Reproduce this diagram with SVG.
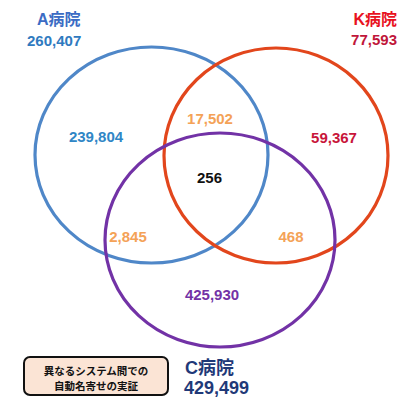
<svg xmlns="http://www.w3.org/2000/svg" width="405" height="406" viewBox="0 0 405 406">
<style>
text{font-family:"Liberation Sans","Noto Sans CJK JP",Arial,sans-serif;font-weight:bold;}
.c{text-anchor:middle}
.ring{fill:none;stroke-width:3.2}
.n{font-size:15px}
.ov{fill:#f4a257}
</style>
<rect width="405" height="406" fill="#ffffff"/>
<g id="connectors"></g>
<g id="setA">
<ellipse class="ring" cx="151.5" cy="155" rx="116.5" ry="108" stroke="#4f87c8"/>
<text x="37" y="25" font-size="16" fill="#3c6cc4">A病院</text>
<text x="27" y="46" font-size="15" fill="#2f7abf">260,407</text>
<text class="c n" x="96" y="142" fill="#2f86c6">239,804</text>
</g>
<g id="setK">
<ellipse class="ring" cx="276" cy="155.5" rx="112" ry="107.5" stroke="#e2461c"/>
<text x="397" y="25" font-size="16" fill="#e8121e" text-anchor="end">K病院</text>
<text x="397" y="45" font-size="15" fill="#c0163a" text-anchor="end">77,593</text>
<text class="c n" x="334" y="143" fill="#c8153a">59,367</text>
</g>
<g id="setC">
<ellipse class="ring" cx="220" cy="240" rx="115" ry="107" stroke="#7232a6"/>
<text x="185" y="374" font-size="18" fill="#1f3978">C病院</text>
<text x="184" y="394" font-size="18" fill="#1f3978">429,499</text>
<text class="c n" x="212" y="300" fill="#7232a6">425,930</text>
</g>
<g id="overlaps">
<text class="c n ov" x="210" y="124">17,502</text>
<text class="c n" x="209.5" y="183" fill="#111111">256</text>
<text class="c n ov" x="128" y="242">2,845</text>
<text class="c n ov" x="291" y="242">468</text>
</g>
<g id="note">
<rect x="24" y="357" width="144" height="38" rx="6" fill="#fbe4d5" stroke="#111111" stroke-width="2"/>
<text class="c" x="96" y="375" font-size="10.5" fill="#111111">異なるシステム間での</text>
<text class="c" x="96" y="390" font-size="10.5" fill="#111111">自動名寄せの実証</text>
</g>
</svg>
